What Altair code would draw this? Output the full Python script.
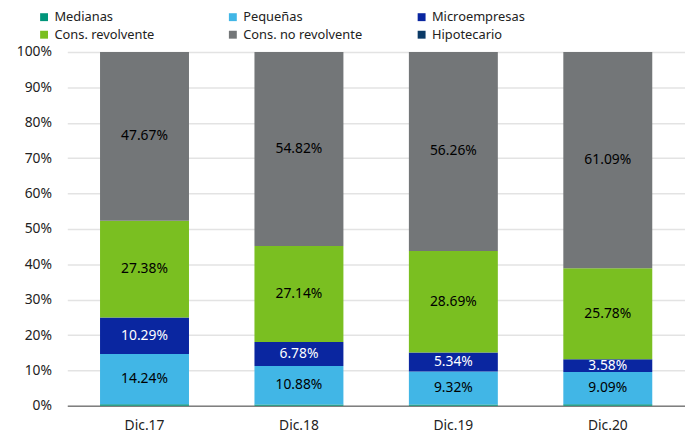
import altair as alt
import pandas as pd

categories = ["Dic.17", "Dic.18", "Dic.19", "Dic.20"]
series = ["Medianas", "Pequeñas", "Microempresas", "Cons. revolvente", "Cons. no revolvente", "Hipotecario"]
colors = ["#00957a", "#41b6e6", "#0a26a0", "#7abf21", "#737678", "#0b3a66"]
text_colors = ["black", "black", "white", "black", "black", "white"]

medianas = [0.42, 0.38, 0.39, 0.46]
pequenas = [14.24, 10.88, 9.32, 9.09]
micro = [10.29, 6.78, 5.34, 3.58]
cons_rev = [27.38, 27.14, 28.69, 25.78]
cons_no_rev = [47.67, 54.82, 56.26, 61.09]
hipotecario = [0.0, 0.0, 0.0, 0.0]

values = [medianas, pequenas, micro, cons_rev, cons_no_rev, hipotecario]
show_label = [False, True, True, True, True, False]

rows = []
for si, s in enumerate(series):
    for ci, c in enumerate(categories):
        rows.append({"cat": c, "serie": s, "ord": si, "value": values[si][ci],
                     "show": show_label[si], "tcolor": text_colors[si]})
df = pd.DataFrame(rows)

FONT = "Noto Sans"

base = alt.Chart(df).transform_stack(
    stack="value", groupby=["cat"], as_=["y0", "y1"], sort=[{"field": "ord", "order": "ascending"}]
).transform_calculate(mid="(datum.y0 + datum.y1) / 2")

x_scale = alt.Scale(paddingInner=0, paddingOuter=0)
y_scale = alt.Scale(domain=[0, 100], nice=False)
x_axis = alt.Axis(labelAngle=0, labelFont=FONT, labelFontSize=14, labelColor="#222",
                  labelPadding=13, ticks=False, domainColor="#7f7f7f", domainWidth=1.5, grid=False)
y_axis = alt.Axis(values=list(range(0, 101, 10)), labelExpr="datum.value + '%'",
                  labelOverlap=False,
                  labelFont=FONT, labelFontSize=14, labelColor="#222", labelPadding=16,
                  ticks=False, domain=False, grid=True, gridColor="#e3e3e3", gridWidth=1.5)

bars = base.mark_bar(size=90).encode(
    x=alt.X("cat:N", sort=categories, title=None, scale=x_scale, axis=x_axis),
    y=alt.Y("y0:Q", title=None, scale=y_scale, axis=y_axis),
    y2="y1:Q",
    color=alt.Color("serie:N", sort=series,
                    scale=alt.Scale(domain=series, range=colors),
                    legend=alt.Legend(title=None, orient="none", legendX=-30, legendY=-42,
                                      columns=3, direction="horizontal", gridAlign="all",
                                      symbolType="square", symbolSize=64, symbolStrokeWidth=0,
                                      labelFont=FONT, labelFontSize=13, labelColor="#222",
                                      labelOffset=4, columnPadding=53, rowPadding=4, labelLimit=200)),
    order=alt.Order("ord:Q"),
)

labels = base.transform_filter("datum.show").transform_calculate(
    lbl="format(datum.value, '.2f') + '%'"
).mark_text(font=FONT, fontSize=14).encode(
    x=alt.X("cat:N", sort=categories, title=None, scale=x_scale, axis=x_axis),
    y=alt.Y("mid:Q", title=None, scale=y_scale, axis=y_axis),
    text="lbl:N",
    color=alt.Color("tcolor:N", scale=None),
)

chart = alt.layer(bars, labels).properties(
    width=625, height=358,
    autosize=alt.AutoSizeParams(type="none"),
    padding={"left": 60, "top": 42, "right": 0, "bottom": 28},
).configure(background="white").configure_view(stroke=None)

chart.save("out.html", embed_options={"renderer": "svg", "actions": False})
